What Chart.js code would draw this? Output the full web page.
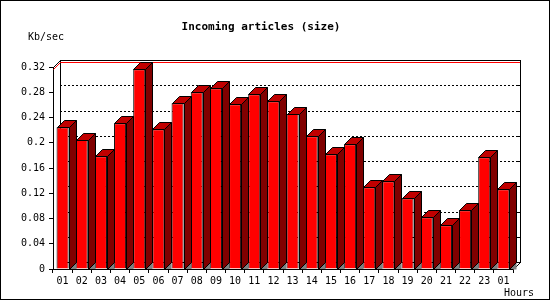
<!DOCTYPE html>
<html>
<head>
<meta charset="utf-8">
<script src="https://cdn.jsdelivr.net/npm/chart.js@4.4.1/dist/chart.umd.min.js"></script>
<style>
body { margin: 0; background: #fff; }
canvas { display: block; }
</style>
</head>
<body>
<canvas id="sizeChart" width="550" height="300"></canvas>
<script>
const hours = ['01', '02', '03', '04', '05', '06', '07', '08', '09', '10', '11', '12',
    '13', '14', '15', '16', '17', '18', '19', '20', '21', '22', '23', '01'];
const kbPerSec = [0.2246, 0.2044, 0.1786, 0.2309, 0.3165, 0.2214, 0.2626, 0.2800,
    0.2864, 0.2610, 0.2769, 0.2658, 0.2456, 0.2103, 0.1818, 0.1976,
    0.1295, 0.1390, 0.1120, 0.0819, 0.0693, 0.0930, 0.1770, 0.1263];
const yTicks = [0, 0.04, 0.08, 0.12, 0.16, 0.2, 0.24, 0.28, 0.32];

const DEPTH = 7;
const MONO = "'DejaVu Sans Mono', 'Liberation Mono', monospace";

function line(ctx, pts) {
    ctx.beginPath();
    ctx.moveTo(pts[0][0], pts[0][1]);
    for (let i = 1; i < pts.length; i++) ctx.lineTo(pts[i][0], pts[i][1]);
}

// back wall, dotted grid and max line, behind the bars
const wallPlugin = {
    id: 'wall',
    beforeDatasetsDraw(chart) {
        const { ctx, chartArea: a, scales: { y } } = chart;
        const L = a.left + DEPTH, R = a.right + DEPTH;
        const T = a.top - DEPTH, B = a.bottom - DEPTH;
        ctx.save();
        ctx.lineWidth = 1;
        ctx.strokeStyle = '#000';

        // dotted grid on the back wall
        ctx.setLineDash([2, 2]);
        yTicks.forEach(v => {
            if (v === 0 || v === yTicks[yTicks.length - 1]) return;
            const py = Math.round(y.getPixelForValue(v) - DEPTH) + 0.5;
            line(ctx, [[L, py], [R, py]]);
            ctx.stroke();
        });
        ctx.setLineDash([]);

        // small ticks on the right edge of the wall
        yTicks.forEach(v => {
            const py = Math.round(y.getPixelForValue(v) - DEPTH) + 0.5;
            line(ctx, [[R - 3, py], [R, py]]);
            ctx.stroke();
        });

        // wall outline
        ctx.strokeRect(Math.round(L) + 0.5, Math.round(T) + 0.5, Math.round(R - L), Math.round(B - T));
        line(ctx, [[a.left + 0.5, a.top + 0.5], [L + 0.5, T + 0.5]]);
        ctx.stroke();
        line(ctx, [[a.right + 0.5, a.bottom + 0.5], [R + 0.5, B + 0.5]]);
        ctx.stroke();

        // max value line
        const max = Math.max(...kbPerSec);
        const my = Math.round(y.getPixelForValue(max)) + 0.5;
        ctx.strokeStyle = '#ff0000';
        line(ctx, [[a.left + 0.5, my], [L + 0.5, my - DEPTH], [R, my - DEPTH]]);
        ctx.stroke();
        ctx.restore();
    }
};

// side and top faces of every bar
const depthPlugin = {
    id: 'depth',
    afterDatasetsDraw(chart) {
        const { ctx, chartArea: a } = chart;
        const meta = chart.getDatasetMeta(0);
        ctx.save();
        ctx.lineWidth = 1;
        ctx.strokeStyle = '#000';
        meta.data.forEach(bar => {
            const left = Math.round(bar.x - bar.width / 2) + 0.5;
            const right = Math.round(bar.x + bar.width / 2) + 0.5;
            const top = Math.round(bar.y) + 0.5;
            const base = Math.round(bar.base) + 0.5;

            // floor triangle
            ctx.fillStyle = '#808080';
            line(ctx, [[right, base], [right + DEPTH, base - DEPTH], [right + DEPTH, base]]);
            ctx.closePath();
            ctx.fill();

            // side
            ctx.fillStyle = '#800000';
            line(ctx, [[right, top], [right + DEPTH, top - DEPTH], [right + DEPTH, base - DEPTH], [right, base]]);
            ctx.closePath();
            ctx.fill();
            ctx.stroke();

            // top
            ctx.fillStyle = '#c00000';
            line(ctx, [[left, top], [left + DEPTH, top - DEPTH], [right + DEPTH, top - DEPTH], [right, top]]);
            ctx.closePath();
            ctx.fill();
            ctx.stroke();
        });
        // front baseline again over the floor
        line(ctx, [[a.left, Math.round(a.bottom) + 0.5], [a.right, Math.round(a.bottom) + 0.5]]);
        ctx.stroke();
        ctx.restore();
    }
};

// title, axis names and frame
const textPlugin = {
    id: 'texts',
    afterDraw(chart) {
        const { ctx } = chart;
        ctx.save();
        ctx.fillStyle = '#000';
        ctx.textBaseline = 'middle';
        ctx.font = 'bold 11px ' + MONO;
        ctx.textAlign = 'center';
        ctx.fillText('Incoming articles (size)', 261, 27);
        ctx.font = '10px ' + MONO;
        ctx.textAlign = 'left';
        ctx.fillText('Kb/sec', 28, 37);
        ctx.fillText('Hours', 504, 293);
        ctx.strokeStyle = '#000';
        ctx.lineWidth = 1;
        ctx.strokeRect(0.5, 0.5, 549, 299);
        ctx.restore();
    }
};

const ctx = document.getElementById('sizeChart').getContext('2d');
new Chart(ctx, {
    type: 'bar',
    data: {
        labels: hours,
        datasets: [{
            label: 'Kb/sec',
            data: kbPerSec,
            backgroundColor: '#ff0000',
            borderColor: '#000',
            borderWidth: 1,
            barPercentage: 0.63,
            categoryPercentage: 1
        }]
    },
    options: {
        responsive: false,
        animation: false,
        devicePixelRatio: 1,
        layout: {
            padding: { top: 67, right: 37, left: 0, bottom: 0 }
        },
        plugins: {
            legend: { display: false },
            title: { display: false },
            tooltip: { enabled: false }
        },
        scales: {
            x: {
                grid: {
                    display: true,
                    drawOnChartArea: false,
                    drawTicks: true,
                    tickLength: 4,
                    color: '#000',
                    offset: true
                },
                border: { display: true, color: '#000' },
                ticks: {
                    font: { family: MONO, size: 10 },
                    color: '#000',
                    autoSkip: false,
                    maxRotation: 0,
                    padding: 2
                },
                afterFit(scale) { scale.height = 31; }
            },
            y: {
                min: 0,
                max: 0.32,
                afterBuildTicks(scale) {
                    scale.ticks = yTicks.map(v => ({ value: v }));
                },
                grid: {
                    display: true,
                    drawOnChartArea: false,
                    tickLength: 4,
                    color: '#000'
                },
                border: { display: true, color: '#000' },
                ticks: {
                    font: { family: MONO, size: 10 },
                    color: '#000',
                    padding: 4,
                    callback: v => String(v)
                },
                afterFit(scale) { scale.width = 53; }
            }
        }
    },
    plugins: [wallPlugin, depthPlugin, textPlugin]
});
</script>
</body>
</html>
